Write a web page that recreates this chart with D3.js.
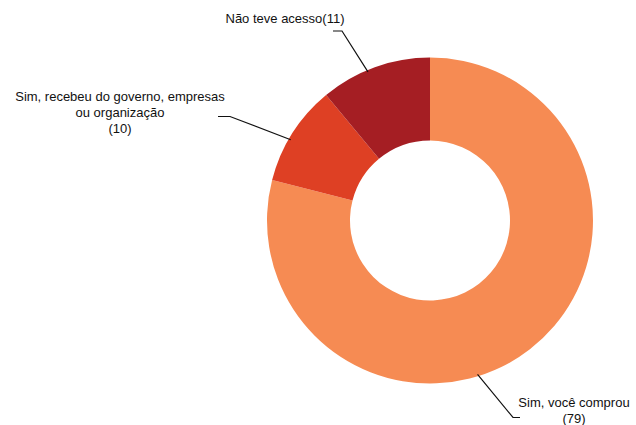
<!DOCTYPE html>
<html>
<head>
<meta charset="utf-8">
<script src="https://cdn.jsdelivr.net/npm/d3@7"></script>
<style>
  html, body { margin: 0; padding: 0; background: #fff; }
  svg { display: block; }
  text { font-family: "Liberation Sans", Arial, Helvetica, sans-serif; font-size: 13px; fill: #111; }
</style>
</head>
<body>
<svg id="chart" width="636" height="425"></svg>
<script>
// Answer categories and counts
const categories = [
  "Sim, você comprou",
  "Sim, recebeu do governo, empresas ou organização",
  "Não teve acesso"
];
const values = [79, 10, 11];
const colors = ["#F68B53", "#DE4024", "#A51E23"];

// Label text lines for each slice
const labelLines = [
  ["Sim, você comprou", "(79)"],
  ["Sim, recebeu do governo, empresas", "ou organização", "(10)"],
  ["Não teve acesso(11)"]
];

const width = 636, height = 425;
const cx = 430, cy = 220.5;
const outerR = 163, innerR = 80;

const svg = d3.select("#chart");
const g = svg.append("g").attr("transform", `translate(${cx},${cy})`);

const pie = d3.pie().sort(null).value(d => d.value).startAngle(0).endAngle(2 * Math.PI);
const data = categories.map((c, i) => ({ name: c, value: values[i], color: colors[i], lines: labelLines[i] }));
const arcs = pie(data);

const arc = d3.arc().innerRadius(innerR).outerRadius(outerR);

g.selectAll("path.slice")
  .data(arcs)
  .join("path")
  .attr("class", "slice")
  .attr("d", arc)
  .attr("fill", d => d.data.color);

// Label layout: anchor angle offset on the ring, elbow and text placement (page coords)
const labelLayout = [
  { angleShift: 0.36, elbow: [513, 417.5], end: [520, 417.5], tx: 574, ty: 407, lh: 16 },
  { angleShift: -0.04, elbow: [230, 116.5], end: [218, 116.5], tx: 120, ty: 101, lh: 16 },
  { angleShift: -0.05, elbow: [342, 31], end: [333, 31], tx: 285, ty: 23, lh: 16 }
];

const leaders = svg.append("g");
arcs.forEach((a, i) => {
  const L = labelLayout[i];
  const ang = (a.startAngle + a.endAngle) / 2 + L.angleShift;
  const r = outerR - 2;
  const ax = cx + r * Math.sin(ang);
  const ay = cy - r * Math.cos(ang);
  leaders.append("polyline")
    .attr("points", [[ax, ay], L.elbow, L.end].map(p => p.join(",")).join(" "))
    .attr("fill", "none")
    .attr("stroke", "#111")
    .attr("stroke-width", 1.2);

  const t = svg.append("text")
    .attr("text-anchor", "middle");
  a.data.lines.forEach((line, j) => {
    t.append("tspan")
      .attr("x", L.tx)
      .attr("y", L.ty + j * L.lh)
      .text(line);
  });
});
</script>
</body>
</html>
